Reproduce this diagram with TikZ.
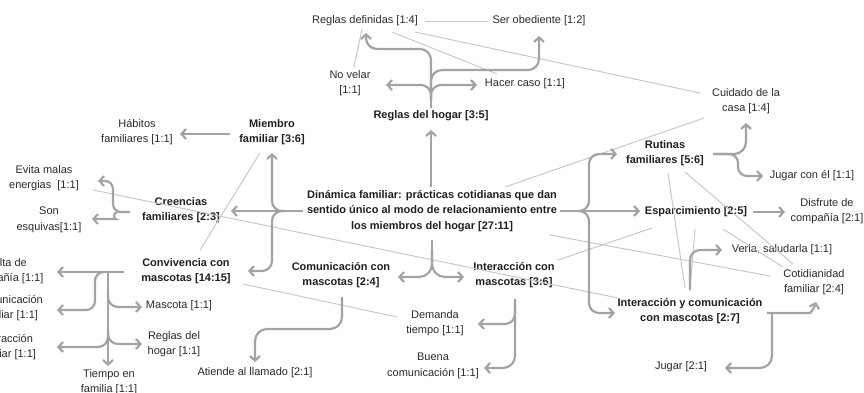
\documentclass[tikz,border=0pt]{standalone}
\usepackage{fontspec}
\setmainfont{Liberation Sans}
\usetikzlibrary{arrows.meta}
\definecolor{arrc}{HTML}{A3A3A3}
\definecolor{thinc}{HTML}{C8C8C8}
\definecolor{txt}{HTML}{2A2A2A}
\begin{document}
\begin{tikzpicture}[x=1pt,y=-1pt,
 lbl/.style={font=\fontsize{11}{15.5}\selectfont, text=txt, align=center, inner sep=0pt},
 blbl/.style={font=\bfseries\fontsize{11}{15.5}\selectfont, text=black!88, align=center, inner sep=0pt},
 arr/.style={draw=arrc, line width=2.2pt, rounded corners=10pt, -{Straight Barb[length=4.5pt,width=10pt]}},
 link/.style={draw=arrc, line width=2.2pt, rounded corners=10pt},
 thin/.style={draw=thinc, line width=1pt}]
\useasboundingbox (0,0) rectangle (864,393);

% nodes
\node[lbl] (rdef) at (365,21) {Reglas definidas [1:4]};
\node[lbl] (serob) at (539,21) {Ser obediente [1:2]};
\node[lbl] (novelar) at (350,83) {No velar\\{}[1:1]};
\node[lbl] (hacer) at (525,84) {Hacer caso [1:1]};
\node[blbl] (rhogar) at (431,116) {Reglas del hogar [3:5]};
\node[blbl] (miembro) at (272,132) {Miembro\\familiar [3:6]};
\node[lbl] (habitos) at (137,132) {Hábitos\\familiares [1:1]};
\node[lbl] (evita) at (44,178) {Evita malas\\energias\ \ [1:1]};
\node[blbl] (creencias) at (181,210) {Creencias\\familiares [2:3]};
\node[lbl] (son) at (49,220) {Son\\esquivas[1:1]};
\node[blbl] (conv) at (186,271) {Convivencia con\\mascotas [14:15]};
\node[lbl] (falta) at (7,271) {Falta de\\compañía [1:1]};
\node[lbl] (comfam) at (8,308) {Comunicación\\familiar [1:1]};
\node[lbl] (intfam) at (6,347) {Interacción\\familiar [1:1]};
\node[lbl] (mascota) at (179,306) {Mascota [1:1]};
\node[lbl] (reglas2) at (174,344) {Reglas del\\hogar [1:1]};
\node[lbl] (tiempo) at (109,382) {Tiempo en\\familia [1:1]};
\node[lbl] (atiende) at (255,373) {Atiende al llamado [2:1]};
\node[blbl] (din) at (432,211) {Dinámica familiar: prácticas cotidianas que dan\\sentido único al modo de relacionamiento entre\\los miembros del hogar [27:11]};
\node[blbl] (commasc) at (341,275) {Comunicación con\\mascotas [2:4]};
\node[blbl] (intmasc) at (514,275) {Interacción con\\mascotas [3:6]};
\node[lbl] (demanda) at (435,323) {Demanda\\tiempo [1:1]};
\node[lbl] (buena) at (433,366) {Buena\\comunicación [1:1]};
\node[blbl] (rutinas) at (665,153) {Rutinas\\familiares [5:6]};
\node[lbl] (cuidado) at (746,101) {Cuidado de la\\casa [1:4]};
\node[lbl] (jugarel) at (812,176) {Jugar con él [1:1]};
\node[blbl] (espar) at (696,212) {Esparcimiento [2:5]};
\node[lbl] (disfrute) at (827,211) {Disfrute de\\compañía [2:1]};
\node[lbl] (verla) at (782,250) {Verla, saludarla [1:1]};
\node[lbl] (cotid) at (814,282) {Cotidianidad\\familiar [2:4]};
\node[blbl] (intcom) at (690,311) {Interacción y comunicación\\con mascotas [2:7]};
\node[lbl] (jugar) at (681,367) {Jugar [2:1]};

% thin links
\draw[thin] (425,22) -- (488,22);
\draw[thin] (354,67) -- (362,29);
\draw[thin] (392,32) -- (497,74);
\draw[thin] (415,32) -- (700,93);
\draw[thin] (505,187) -- (704,118);
\draw[thin] (260,153) -- (200,250);
\draw[thin] (93,190) -- (618,298);
\draw[thin] (243,284) -- (397,317);
\draw[thin] (550,235) -- (770,276);
\draw[thin] (558,260) -- (652,228);
\draw[thin] (668,173) -- (685,288);
\draw[thin] (685,172) -- (793,264);
\draw[thin] (695,229) -- (690,289);
\draw[thin] (723,229) -- (783,267);

% Reglas del hogar brace
\draw[link] (431,108) -- (431,98);
\draw[arr] (431,100) |- (386,85);
\draw[arr] (431,100) |- (477,85);
\draw[arr,rounded corners=11pt] (431,100) -- (431,49) -- (366,49) -- (366,33);
\draw[arr,rounded corners=11pt] (431,90) |- (539,70) -- (539,36);

% Dinamica -> Reglas del hogar
\draw[arr] (431,187) -- (431,130);

% left brace of Dinamica
\draw[arr] (303,211) -- (231,211);
\draw[arr] (285,211) -| (272,153);
\draw[arr] (285,211) -| (272,271) -- (248,271);

% right brace of Dinamica
\draw[arr] (560,211) -- (640,211);
\draw[arr] (578,211) -| (589,154) -- (617,154);
\draw[arr] (578,211) -| (589,313) -- (615,313);

% down from Dinamica
\draw[link] (432,240) -- (432,255);
\draw[arr,rounded corners=13pt] (432,250) |- (398,277);
\draw[arr,rounded corners=13pt] (432,250) |- (464,277);

% Rutinas
\draw[arr,rounded corners=12pt] (713,154) -| (746,123);
\draw[arr,rounded corners=9pt] (713,154) -| (738,176) -- (763,176);

% Esparcimiento
\draw[arr] (753,212) -- (785,212);

% Interaccion y comunicacion
\draw[arr] (690,290) |- (722,250);
\draw[arr] (767,313) -- (800,313) .. controls (810,313) and (814,309) .. (816,302);
\draw[arr,rounded corners=12pt] (772,313) -- (772,368) -- (725,368);

% Interaccion con mascotas
\draw[arr,rounded corners=12pt] (515,299) -- (515,368) -- (484,368);
\draw[arr] (515,305) |- (478,324);

% Comunicacion con mascotas
\draw[arr,rounded corners=12pt] (342,297) -- (342,329) -- (255,329) -- (255,362);

% Convivencia
\draw[arr] (124,272) -- (57,272);
\draw[arr] (108,272) -- (108,366);
\draw[arr,rounded corners=9pt] (104,272) -| (95,310) -- (57,310);
\draw[arr] (108,290) |- (142,307);
\draw[arr] (108,330) |- (57,347);
\draw[arr] (108,330) |- (142,344);

% Creencias
\draw[arr,rounded corners=8pt] (130,212) -| (113,181) -- (98,181);
\draw[arr] (118,212) .. controls (113,212) and (113,219) .. (106,219) -- (92,219);

% Miembro -> Habitos
\draw[arr] (230,134) -- (180,134);
\end{tikzpicture}
\end{document}
